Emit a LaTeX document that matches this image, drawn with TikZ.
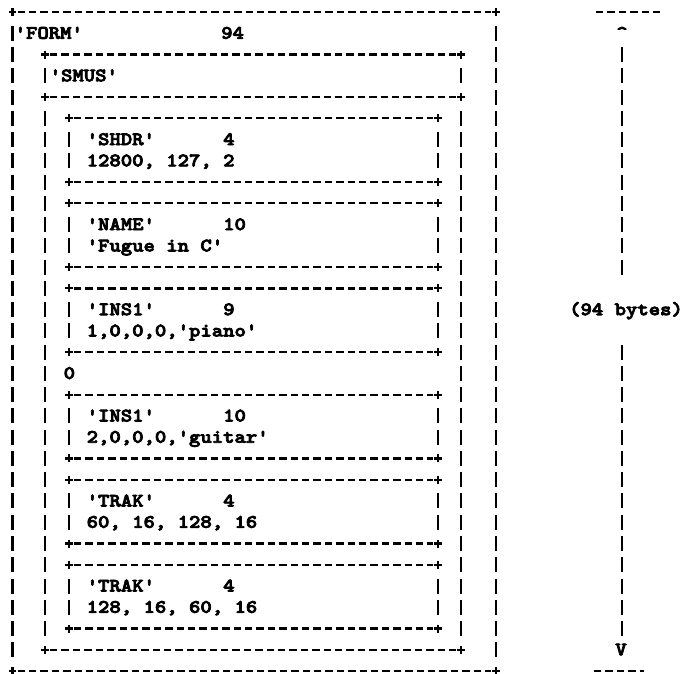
\documentclass[tikz,border=0pt]{standalone}
\usepackage{fontspec}
\newfontfamily\asciifont{lmmonolt10-bold.otf}[FakeStretch=1.14,FakeBold=4]
\tikzset{
  hdash/.style={line width=2.3pt, dash pattern=on 7.4pt off 4pt},
  plusmark/.style={line width=2.2pt},
  vbarline/.style={line width=2.3pt},
  txt/.style={font=\asciifont\fontsize{19}{21}\selectfont, inner sep=0pt, anchor=base west},
  ctxt/.style={font=\asciifont\fontsize{19}{21}\selectfont, inner sep=0pt, anchor=base},
}
\newcommand\APlus[2]{\draw[plusmark] ({#1-3.6},{12+21.26*(#2)}) -- ({#1+3.6},{12+21.26*(#2)}) ({#1},{12+21.26*(#2)-4}) -- ({#1},{12+21.26*(#2)+4});}
\newcommand\AHline[3]{\draw[hdash] ({#1+5},{12+21.26*(#3)}) -- ({#2-5},{12+21.26*(#3)});\APlus{#1}{#3}\APlus{#2}{#3}}
\newcommand\AVbar[3]{\foreach \k in {#2,...,#3}{\draw[vbarline] (#1,{12+21.26*\k-7.5}) -- (#1,{12+21.26*\k+7.5});}}
\newcommand\ATxt[4]{\node[txt] (#1) at (#2,{12+21.26*(#3)+5.5}) {#4};}
\begin{document}
\begin{tikzpicture}[x=1pt,y=-1pt]
\useasboundingbox (0,0) rectangle (684,673);
% outer FORM box
\AHline{12.5}{496}{0}
\AHline{12.5}{496}{31}
\AVbar{12.5}{1}{30}
\AVbar{496}{1}{30}
% SMUS box
\AHline{45}{461}{2}
\AHline{45}{461}{4}
\AHline{45}{461}{30}
\AVbar{45}{3}{3}
\AVbar{461}{3}{3}
\AVbar{45}{5}{29}
\AVbar{461}{5}{29}
% inner chunk boxes
\foreach \t in {5,9,13,18,22,26}{
  \pgfmathtruncatemacro\ta{\t+1}
  \pgfmathtruncatemacro\tb{\t+2}
  \pgfmathtruncatemacro\tc{\t+3}
  \AHline{69}{438}{\t}
  \AHline{69}{438}{\tc}
  \AVbar{69}{\ta}{\tb}
  \AVbar{438}{\ta}{\tb}
}
% texts
\ATxt{form}{14.5}{1}{'FORM'}
\ATxt{formn}{221}{1}{94}
\ATxt{smus}{49.5}{3}{'SMUS'}
\ATxt{shdr}{86.5}{6}{'SHDR'}
\ATxt{shdrn}{223}{6}{4}
\ATxt{shdrd}{86.5}{7}{12800, 127, 2}
\ATxt{name}{86.5}{10}{'NAME'}
\ATxt{namen}{223}{10}{10}
\ATxt{named}{86.5}{11}{'Fugue in C'}
\ATxt{insa}{86.5}{14}{'INS1'}
\ATxt{insan}{223}{14}{9}
\ATxt{insad}{86.5}{15}{1,0,0,0,'piano'}
\ATxt{zero}{63.5}{17}{0}
\ATxt{insb}{86.5}{19}{'INS1'}
\ATxt{insbn}{223}{19}{10}
\ATxt{insbd}{86.5}{20}{2,0,0,0,'guitar'}
\ATxt{traka}{86.5}{23}{'TRAK'}
\ATxt{trakan}{223}{23}{4}
\ATxt{trakad}{86.5}{24}{60, 16, 128, 16}
\ATxt{trakb}{86.5}{27}{'TRAK'}
\ATxt{trakbn}{223}{27}{4}
\ATxt{trakbd}{86.5}{28}{128, 16, 60, 16}
% size dimension on the right
\draw[hdash] (596,12) -- (661,12);
\draw[hdash] (594,{12+21.26*31}) -- (644,{12+21.26*31});
\node[ctxt] (up) at (622,{12+21.26*1+5.5}) {\textasciicircum};
\node[ctxt] (down) at (621,{12+21.26*30+5.5}) {V};
\node[ctxt] (bytes) at (626,{12+21.26*14+5.5}) {(94 bytes)};
\AVbar{622}{2}{12}
\AVbar{622}{16}{29}
\end{tikzpicture}
\end{document}
